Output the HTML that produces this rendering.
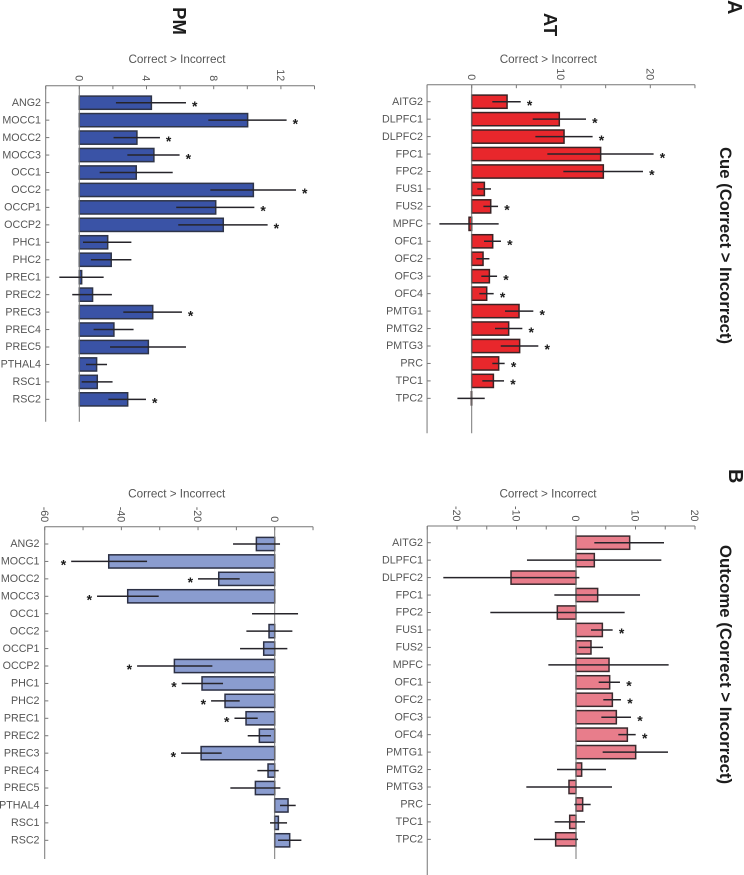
<!DOCTYPE html>
<html lang="en">
<head>
<meta charset="utf-8">
<title>Correct &gt; Incorrect region charts</title>
<style>
  html,body{margin:0;padding:0;background:#fff;}
  #figure{display:block;position:absolute;left:0;top:0;filter:blur(0.3px);}
  text{font-family:"Liberation Sans",sans-serif;}
  .heading{font-weight:bold;fill:#1c1c1c;}
</style>
</head>
<body>
<svg id="figure" xmlns="http://www.w3.org/2000/svg" width="744" height="875" viewBox="0 0 744 875">
  <rect x="0" y="0" width="744" height="875" fill="#fff"/>
  <text class="heading" transform="translate(728,0) rotate(90)" font-size="20">A</text>
  <text class="heading" transform="translate(729,469) rotate(90)" font-size="20">B</text>
  <text class="heading" transform="translate(173,21) rotate(90)" font-size="18.5" text-anchor="middle">PM</text>
  <text class="heading" transform="translate(544,24.5) rotate(90)" font-size="18.5" text-anchor="middle">AT</text>
  <text class="heading" transform="translate(720,245.5) rotate(90)" font-size="16.7" text-anchor="middle">Cue (Correct &gt; Incorrect)</text>
  <text class="heading" transform="translate(720,664.5) rotate(90)" font-size="16.8" text-anchor="middle">Outcome (Correct &gt; Incorrect)</text>
</svg>
<script>
// Region categories
const atCategories = ["AITG2","DLPFC1","DLPFC2","FPC1","FPC2","FUS1","FUS2","MPFC","OFC1","OFC2","OFC3","OFC4","PMTG1","PMTG2","PMTG3","PRC","TPC1","TPC2"];
const pmCategories = ["ANG2","MOCC1","MOCC2","MOCC3","OCC1","OCC2","OCCP1","OCCP2","PHC1","PHC2","PREC1","PREC2","PREC3","PREC4","PREC5","PTHAL4","RSC1","RSC2"];

// PM, cue
const pmCueValues = [4.29,10.02,3.43,4.44,3.39,10.36,8.12,8.57,1.69,1.90,0.14,0.79,4.37,2.06,4.11,1.03,1.07,2.88];
const pmCueErrLow = [2.18,7.68,2.04,2.86,1.21,7.80,5.77,5.89,0.22,0.69,-1.19,-0.42,2.62,0.85,1.83,0.40,0.14,1.73];
const pmCueErrHigh = [6.35,12.34,4.80,5.97,5.56,12.90,10.42,11.21,3.10,3.10,1.45,1.94,6.11,3.23,6.35,1.65,1.98,3.97];
const pmCueSignificant = [1,1,1,1,0,1,1,1,0,0,0,0,1,0,0,0,0,1];
const pmCueTicks = [0,4,8,12];

// AT, cue
const atCueValues = [3.96,9.81,10.34,14.44,14.74,1.42,2.13,-0.30,2.35,1.27,1.98,1.68,5.30,4.14,5.37,3.02,2.43,-0.04];
const atCueErrLow = [2.31,6.83,7.13,8.47,10.26,0.63,1.31,-3.62,1.38,0.52,1.08,0.86,3.73,2.61,3.25,2.31,1.19,-1.60];
const atCueErrHigh = [5.49,12.80,13.54,20.37,19.18,2.16,2.95,3.02,3.28,1.98,2.84,2.46,6.90,5.67,7.46,3.69,3.62,1.46];
const atCueSignificant = [1,1,1,1,1,0,1,0,1,0,1,1,1,1,1,1,1,0];
const atCueTicks = [0,10,20];

// PM, outcome
const pmOutcomeValues = [-4.78,-43.3,-14.6,-38.35,0,-1.48,-2.87,-26.17,-18.96,-12.96,-7.48,-4.0,-19.2,-1.74,-5.04,3.48,0.96,3.91];
const pmOutcomeErrLow = [-10.87,-53.1,-20.0,-46.35,-5.91,-7.39,-9.04,-35.9,-24.26,-16.6,-10.5,-7.04,-24.43,-4.52,-11.57,1.39,-1.22,0.87];
const pmOutcomeErrHigh = [1.39,-33.3,-9.13,-30.26,6.09,4.61,3.30,-16.26,-13.48,-9.13,-4.43,-0.96,-13.83,1.04,1.48,5.48,3.22,6.96];
const pmOutcomeSignificant = [0,1,1,1,0,0,0,1,1,1,1,0,1,0,0,0,0,0];
const pmOutcomeTicks = [-60,-40,-20,0];

// AT, outcome
const atOutcomeValues = [9.02,3.08,-10.92,3.64,-3.14,4.43,2.52,5.55,5.66,6.11,6.78,8.63,10.03,0.95,-1.18,1.12,-1.06,-3.42];
const atOutcomeErrLow = [3.08,-8.24,-22.3,-3.64,-14.4,2.52,0.45,-4.65,3.81,4.59,4.26,7.11,4.48,-3.19,-8.35,-0.28,-3.59,-7.06];
const atOutcomeErrHigh = [14.79,14.34,0.56,10.76,8.18,6.16,4.54,15.57,7.39,7.56,9.24,10.03,15.46,5.04,6.05,2.46,1.51,0.34];
const atOutcomeSignificant = [0,0,0,0,0,1,0,0,1,1,1,1,0,0,0,0,0,0];
const atOutcomeTicks = [-20,-10,0,10,20];

const NS = "http://www.w3.org/2000/svg";
const svg = document.getElementById("figure");

function make(tag, parent, props) {
  const node = document.createElementNS(NS, tag);
  for (const key in props) node.setAttribute(key, props[key]);
  parent.appendChild(node);
  return node;
}

function drawPanel(p) {
  const xOf = v => p.zeroX + v * p.unit;
  const yOf = i => p.firstY + i * p.spacing;

  const g = make("g", svg, {});
  
  

  const title = make("text", g, {x: p.titleX, y: p.titleY + 4, "text-anchor": "middle", "font-size": 11.7, fill: "#555"});
  
  
  title.textContent = "Correct > Incorrect";

  const topAxis = make("line", g, {x1: xOf(p.min), x2: xOf(p.max), y1: p.axisY, y2: p.axisY, stroke: "#777", "stroke-width": 1});
  
  

  const leftAxis = make("line", g, {x1: xOf(p.min), x2: xOf(p.min), y1: p.axisY, y2: p.leftBottom, stroke: "#777", "stroke-width": 1});
  
  

  for (let v = p.min; v <= p.max + 1e-6; v += p.step) {
    const tick = make("line", g, {x1: xOf(v), x2: xOf(v), y1: p.axisY, y2: p.axisY + 3.5, stroke: "#777", "stroke-width": 1});
    
    
  }

  p.ticks.forEach(v => {
    const label = make("text", g, {transform: "translate(" + (xOf(v) - 3.8) + "," + (p.axisY - 4.5) + ") rotate(90)", "text-anchor": "end", "font-size": 10.7, fill: "#555"});
    
    
    label.textContent = String(v);
  });

  p.categories.forEach((name, i) => {
    const y = yOf(i);
    const tick = make("line", g, {x1: xOf(p.min), x2: xOf(p.min) + 3.6, y1: y, y2: y, stroke: "#777", "stroke-width": 1});
    
    

    const label = make("text", g, {x: p.labelRight, y: y + 3.2, "text-anchor": "end", "font-size": 10.7, fill: "#555"});
    
    
    label.textContent = name;

    const v = p.values[i];
    const bar = make("rect", g, {x: Math.min(xOf(0), xOf(v)), y: y - 6.6, width: Math.abs(xOf(v) - xOf(0)), height: 13.2, fill: p.fill, stroke: p.edge, "stroke-width": 1.5});
    
    
  });

  const zero = make("line", g, {x1: xOf(0), x2: xOf(0), y1: p.axisY, y2: p.zeroBottom, stroke: "#777", "stroke-width": 1});
  
  

  p.categories.forEach((name, i) => {
    const y = yOf(i);
    const err = make("line", g, {x1: xOf(p.errLow[i]), x2: xOf(p.errHigh[i]), y1: y, y2: y, stroke: "#26242a", "stroke-width": 1.5});
    
    

    if (p.significant[i]) {
      const starX = p.values[i] < 0 ? xOf(p.errLow[i]) - p.starGap : xOf(p.errHigh[i]) + p.starGap;
      const star = make("text", g, {x: starX, y: y + 8.2, "text-anchor": "middle", "font-size": 14, "font-weight": "bold", fill: "#1a1a1a"});
      
      
      star.textContent = "*";
    }
  });
}

drawPanel({id:"pm-cue", categories:pmCategories, values:pmCueValues, errLow:pmCueErrLow, errHigh:pmCueErrHigh, significant:pmCueSignificant, ticks:pmCueTicks,
  fill:"#3a53a6", edge:"#2e3448", zeroX:79.3, unit:16.8, min:-2, max:14, step:2, axisY:85.7, firstY:102.7, spacing:17.45, leftBottom:421.7, zeroBottom:421.7, labelRight:41, titleX:177, titleY:59, starGap:8.7});
drawPanel({id:"at-cue", categories:atCategories, values:atCueValues, errLow:atCueErrLow, errHigh:atCueErrHigh, significant:atCueSignificant, ticks:atCueTicks,
  fill:"#e8272c", edge:"#3a2224", zeroX:471.7, unit:8.93, min:-5, max:25, step:5, axisY:84.7, firstY:101.7, spacing:17.45, leftBottom:433.3, zeroBottom:433.3, labelRight:423, titleX:548.3, titleY:59, starGap:8.9});
drawPanel({id:"pm-outcome", categories:pmCategories, values:pmOutcomeValues, errLow:pmOutcomeErrLow, errHigh:pmOutcomeErrHigh, significant:pmOutcomeSignificant, ticks:pmOutcomeTicks,
  fill:"#8a9ccf", edge:"#2c3044", zeroX:274.7, unit:3.833, min:-60, max:10, step:10, axisY:526.7, firstY:544, spacing:17.43, leftBottom:859, zeroBottom:859, labelRight:39.5, titleX:176.7, titleY:493.7, starGap:7.7});
drawPanel({id:"at-outcome", categories:atCategories, values:atOutcomeValues, errLow:atOutcomeErrLow, errHigh:atOutcomeErrHigh, significant:atOutcomeSignificant, ticks:atOutcomeTicks,
  fill:"#e87d8b", edge:"#3a2a2e", zeroX:576, unit:5.95, min:-25, max:20, step:5, axisY:526, firstY:542.7, spacing:17.45, leftBottom:875, zeroBottom:859, labelRight:423, titleX:548, titleY:493.7, starGap:9});
</script>
</body>
</html>
